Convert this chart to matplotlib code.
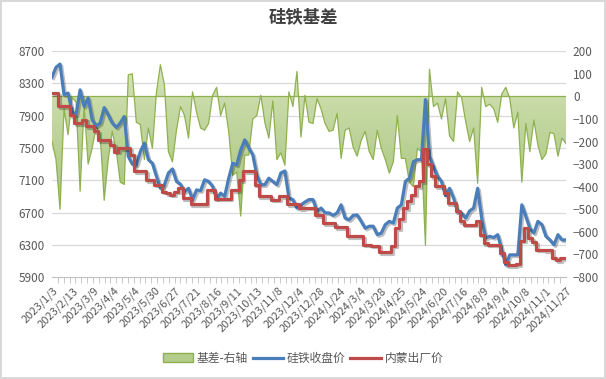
import numpy as np
import matplotlib
matplotlib.use('Agg')
import matplotlib.pyplot as plt
import matplotlib.patheffects as pe
import matplotlib.transforms as mtransforms
from matplotlib.colors import LinearSegmentedColormap
from matplotlib.lines import Line2D
from matplotlib.patches import Patch

plt.rcParams['font.family'] = ['Noto Sans CJK SC', 'DejaVu Sans']

# x轴标签（每隔若干交易日）
dates = ['2023/1/3', '2023/2/13', '2023/3/9', '2023/4/4', '2023/5/4', '2023/5/30',
         '2023/6/27', '2023/7/21', '2023/8/16', '2023/9/11', '2023/10/13', '2023/11/8',
         '2023/12/4', '2023/12/28', '2024/1/24', '2024/3/4', '2024/3/28', '2024/4/25',
         '2024/5/24', '2024/6/20', '2024/7/16', '2024/8/9', '2024/9/4', '2024/10/8',
         '2024/11/1', '2024/11/27']

# 硅铁收盘价
futures = [8380, 8500, 8540, 8160, 8180, 7950, 7910, 8220, 8015, 8120, 7850, 7770, 7810, 8000, 7910, 7810,
           7755, 7810, 7890, 7395, 7300, 7290, 7455, 7560, 7355, 7310, 7150, 7000, 7045, 7190, 7240, 7085,
           7050, 6960, 7000, 6860, 6980, 6970, 7105, 7085, 7025, 6870, 6940, 6900, 7125, 7310, 7290, 7475,
           7600, 7500, 7415, 7165, 7045, 7045, 7125, 7085, 7045, 7190, 7215, 6880, 6860, 6755, 6795, 6830,
           6860, 6860, 6715, 6755, 6695, 6695, 6665, 6695, 6795, 6630, 6610, 6665, 6670, 6590, 6505, 6530,
           6530, 6425, 6445, 6550, 6590, 6570, 6755, 6795, 7085, 7125, 7330, 7355, 7355, 8100, 7400, 7270,
           7150, 7085, 6910, 7000, 6880, 6715, 6695, 6630, 6720, 6755, 7000, 6630, 6385, 6405, 6390, 6425,
           6240, 6050, 6175, 6175, 6175, 6795, 6650, 6505, 6445, 6590, 6550, 6405, 6360, 6300, 6425, 6360,
           6360]

# 内蒙出厂价
spot = [8180, 8180, 8020, 8015, 8015, 7910, 7810, 7810, 7850, 7770, 7770, 7705, 7600, 7600, 7600, 7540,
        7455, 7500, 7500, 7500, 7415, 7210, 7210, 7210, 7105, 7105, 7045, 7045, 6960, 6940, 6920, 6960,
        7000, 6880, 6880, 6805, 6805, 6805, 6805, 6980, 6980, 6870, 6870, 6870, 6870, 6980, 6980, 7100,
        7210, 7210, 7210, 7045, 6900, 6900, 6900, 6860, 6860, 6900, 6900, 6805, 6805, 6805, 6755, 6760,
        6760, 6760, 6665, 6665, 6570, 6570, 6570, 6515, 6515, 6515, 6405, 6405, 6405, 6405, 6300, 6300,
        6290, 6290, 6210, 6210, 6210, 6290, 6505, 6620, 6755, 6840, 6920, 7025, 7085, 7490, 7300, 7150,
        7025, 7025, 6940, 6815, 6815, 6715, 6590, 6550, 6550, 6550, 6590, 6425, 6320, 6300, 6300, 6300,
        6195, 6090, 6050, 6050, 6060, 6350, 6510, 6385, 6330, 6240, 6240, 6230, 6240, 6140, 6110, 6130,
        6130]

# 基差（右轴）
basis = [-200, -280, -500, -55, -170, -5, -25, -420, -40, -300, -230, -135, -170, -460, -280, -155,
         -240, -380, -390, 95, 100, -115, -125, -280, -140, -230, 15, 140, 50, -245, -290, -150,
         -45, -85, -185, 20, -70, -140, -150, -120, 5, 40, -85, -30, -155, -350, -335, -530,
         -260, -260, -100, -85, 5, -115, -185, -20, -280, -250, -305, 20, -45, 110, -180, 5,
         -115, -120, -10, -55, -120, -155, -150, -75, -275, -150, -140, -225, -265, -195, -155, -245,
         -280, -150, -230, -280, -340, -290, -85, -275, -275, -380, -400, -230, -245, -660, 120, -45,
         -30, -100, -10, -175, -200, 20, -5, -110, -200, -140, -385, 40, -45, -35, -55, -115,
         10, 40, -10, -140, -70, -380, -120, -245, -105, -215, -280, -255, -160, -165, -265, -185,
         -210]

left_ticks = [5900, 6300, 6700, 7100, 7500, 7900, 8300, 8700]
right_ticks = [-800, -700, -600, -500, -400, -300, -200, -100, 0, 100, 200]

n = len(futures)
x = np.arange(n)
gray = '#595959'

fig = plt.figure(figsize=(6.06, 3.79), dpi=100)
fig.patch.set_edgecolor('#d9d9d9')
fig.patch.set_linewidth(1.5)

ax = fig.add_axes([0.0858, 0.269, 0.8482, 0.596])
ax2 = ax.twinx()
ax.set_zorder(ax2.get_zorder() + 1)
ax.patch.set_visible(False)

ax.set_xlim(0, n - 1)
ax.set_ylim(5900, 8700)
ax2.set_ylim(-800, 200)

# 网格线（画在面积图下面）
trans = mtransforms.blended_transform_factory(ax2.transAxes, ax.transData)
for v in left_ticks[1:]:
    ax2.plot([0, 1], [v, v], transform=trans, color='#d9d9d9', lw=0.9, zorder=0)

# 基差面积图，渐变填充
cmap = LinearSegmentedColormap.from_list('g', [(0, '#92b55e'), (0.8, '#cadcaa'), (1, '#dfeacb')])
grad = np.linspace(0, 1, 256).reshape(-1, 1)
im = ax2.imshow(grad, extent=[0, n - 1, -800, 200], origin='lower', aspect='auto',
                cmap=cmap, zorder=1)
poly = ax2.fill_between(x, basis, 0, facecolor='none', edgecolor='none')
im.set_clip_path(poly.get_paths()[0], transform=ax2.transData)
ax2.plot(x, basis, color='#8fb14f', lw=0.9, zorder=2)
ax2.axhline(0, color='#8fb14f', lw=0.9, zorder=2)
ax2.set_xlim(0, n - 1)
ax2.set_ylim(-800, 200)

shadow = [pe.SimpleLineShadow(offset=(1.2, -1.2), alpha=0.25), pe.Normal()]
ax.plot(x, futures, color='#4a7ebb', lw=2.3, path_effects=shadow, zorder=3)
ax.plot(x, spot, color='#be4b48', lw=2.3, drawstyle='steps-mid', path_effects=shadow, zorder=4)

for a in (ax, ax2):
    for s in a.spines.values():
        s.set_visible(False)
ax.spines['bottom'].set_visible(True)
ax.spines['bottom'].set_color('#bfbfbf')

ax.set_yticks(left_ticks)
ax.tick_params(axis='y', length=0, pad=5, labelsize=8.5, labelcolor=gray)
ax2.set_yticks(right_ticks)
ax2.tick_params(axis='y', length=0, pad=5, labelsize=8.5, labelcolor=gray)

ax.set_xticks(np.linspace(0, n - 1, len(dates)))
ax.set_xticklabels(dates, rotation=45, ha='right', rotation_mode='anchor')
ax.set_xticks(np.linspace(0, n - 1, 89), minor=True)
ax.tick_params(axis='x', which='major', length=0, pad=6, labelsize=8, labelcolor=gray)
ax.tick_params(axis='x', which='minor', length=4, color='#bfbfbf')

fig.text(0.5, 1 - 18 / 379, '硅铁基差', ha='center', va='center',
         fontsize=12.5, fontweight='bold', color='#404040')

handles = [Patch(facecolor='#b3cd8a', edgecolor='#8fb14f'),
           Line2D([], [], color='#4a7ebb', lw=2.3),
           Line2D([], [], color='#be4b48', lw=2.3)]
fig.legend(handles, ['基差-右轴', '硅铁收盘价', '内蒙出厂价'], loc='center',
           bbox_to_anchor=(0.5, 0.055), ncol=3, frameon=False, fontsize=8.5,
           handlelength=2.6, columnspacing=0.4, handletextpad=0.3, labelcolor=gray)

fig.savefig('out.png', dpi=100)
